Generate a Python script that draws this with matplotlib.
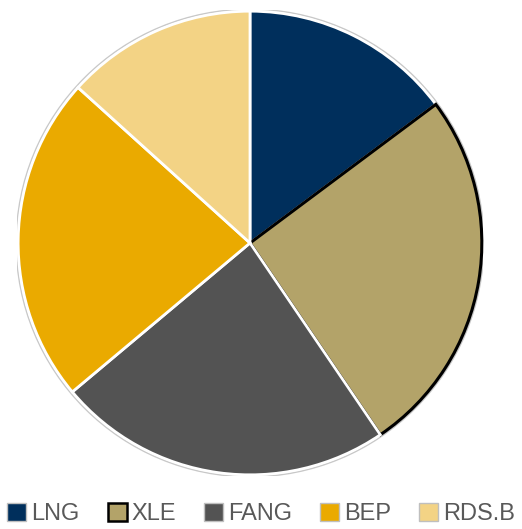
import matplotlib
matplotlib.use("Agg")
import matplotlib.pyplot as plt
from matplotlib.patches import Patch, Circle

labels = ["LNG", "XLE", "FANG", "BEP", "RDS.B"]
weights = [14.8, 25.7, 23.4, 22.8, 13.3]
colors = ["#002F5C", "#B3A369", "#535353", "#EAAA00", "#F3D385"]
edge_colors = ["white", "black", "white", "white", "white"]
legend_edges = ["#BFBFBF", "black", "#BFBFBF", "#BFBFBF", "#BFBFBF"]

plt.rcParams["font.family"] = ["Liberation Sans", "DejaVu Sans"]

W, H = 522, 529
fig = plt.figure(figsize=(W / 100, H / 100), dpi=100)
cx, cy, r = 250, 243, 233
ax = fig.add_axes([(cx - r) / W, (H - cy - r) / H, 2 * r / W, 2 * r / H])

# thin grey rim behind the pie
ax.add_patch(Circle((0, 0), 1.003, facecolor="none", edgecolor="#C8C8C8", lw=1.2, zorder=0))

wedges, _ = ax.pie(weights, colors=colors, startangle=90, counterclock=False,
                   radius=0.995, wedgeprops=dict(linewidth=2))
for w, ec in zip(wedges, edge_colors):
    w.set_edgecolor(ec)
    if ec == "black":
        w.set_linewidth(2.2)

ax.set_xlim(-1, 1)
ax.set_ylim(-1, 1)
ax.set_aspect("equal")
ax.axis("off")

handles = [Patch(facecolor=c, edgecolor=e, linewidth=1.8 if e == "black" else 1.0)
           for c, e in zip(colors, legend_edges)]
leg = fig.legend(handles, labels, loc="center", bbox_to_anchor=(0.5, 1 - 514 / H),
                 ncol=5, frameon=False, fontsize=17, handlelength=0.8, handleheight=0.8,
                 handletextpad=0.2, columnspacing=1.2, borderaxespad=0)
for t in leg.get_texts():
    t.set_color("#595959")

fig.savefig("out.png", dpi=100)
